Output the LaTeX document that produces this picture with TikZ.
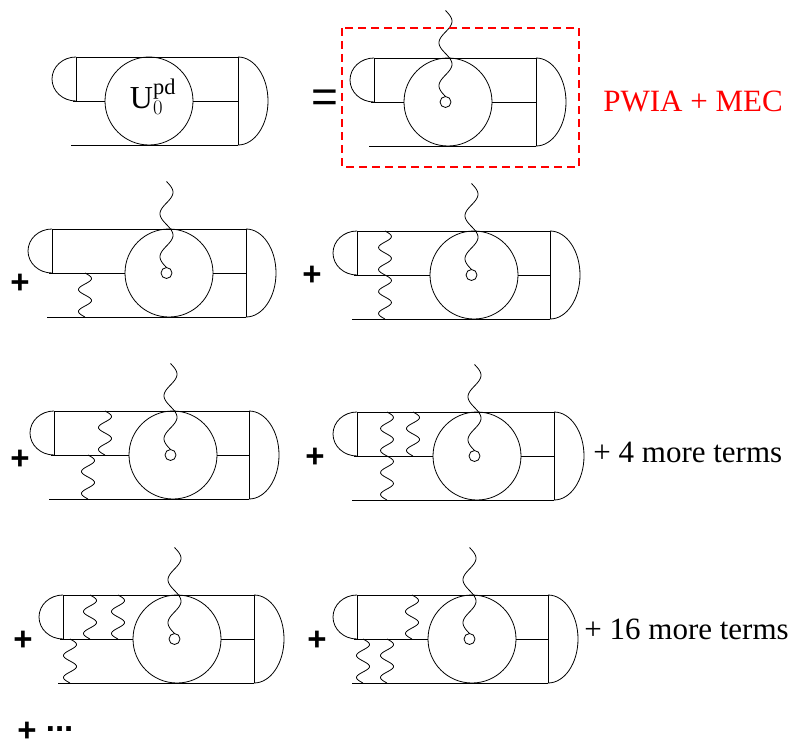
\documentclass[tikz,border=0pt]{standalone}
\usepackage{fontspec}
\setmainfont{Liberation Serif}
\setsansfont{Liberation Sans}
\tikzset{
  pl/.style={font=\sffamily\bfseries\fontsize{33}{38}\selectfont,inner sep=0pt},
  txt/.style={font=\fontsize{31}{36}\selectfont,inner sep=0pt,anchor=base west},
  pics/tube/.style 2 args={code={
    \draw (0,0) -- (#1,0) -- (#1,88);
    \draw (0,0) -- (0,44);
    \draw (0,0) arc[start angle=270,end angle=90,x radius=24,y radius=22];
    \draw (#1,0) arc[start angle=270,end angle=450,x radius=30,y radius=44];
    \draw (-3,44) -- ({#2-44},44);
    \draw ({#2+44},44) -- (#1,44);
    \draw (-5,88) -- (#1,88);
    \draw (#2,44) circle (44);
  }},
  pics/hit/.style={code={
    \draw (0,0) circle (5.5);
    \draw[variable=\t,domain=0:86,samples=90,smooth] plot ({-6.5*sin((\t/43)*360)},{-5.5-\t});
  }},
  pics/gl/.style={code={
    \draw[variable=\t,domain=0:#1,samples=60,smooth] plot ({6.5*sin((\t/22)*360)},\t);
  }}
}
\begin{document}
\begin{tikzpicture}[x=1pt,y=-1pt,line width=0.8pt]
 \useasboundingbox (0,0) rectangle (789,749);
 % first row
 \pic at (76,57) {tube={162}{73}};
 \node[font=\fontsize{32}{36}\selectfont] (u) at (153,97) {$\mathrm{U}_0^{\mathrm{pd}}$};
 \node[font=\sffamily\fontsize{46}{50}\selectfont,inner sep=0pt] (eq) at (325,101) {=};
 \begin{scope}[shift={(374,58)}]
  \pic {tube={162}{74}};
  \pic at (71.5,44) {hit};
 \end{scope}
 \draw[red,dash pattern=on 8pt off 5pt,line width=1.4pt] (342,28) rectangle (579,167);
 \node[txt,red] (pwia) at (603,112) {PWIA + MEC};
 % second row
 \node[pl] (p1) at (20,284) {+};
 \begin{scope}[shift={(52,229)}]
  \pic {tube={194}{117}};
  \pic at (114.5,44) {hit};
  \pic at (33,44) {gl=44};
 \end{scope}
 \node[pl] (p2) at (312,276) {+};
 \begin{scope}[shift={(357,231)}]
  \pic {tube={193}{117}};
  \pic at (114.5,44) {hit};
  \pic at (28,0) {gl=88};
 \end{scope}
 % third row
 \node[pl] (p3) at (20,460) {+};
 \begin{scope}[shift={(54,411)}]
  \pic {tube={195}{119}};
  \pic at (116.5,44) {hit};
  \pic at (51,0) {gl=44};
  \pic at (34,44) {gl=44};
 \end{scope}
 \node[pl] (p4) at (315,458) {+};
 \begin{scope}[shift={(357,412)}]
  \pic {tube={197}{120}};
  \pic at (117.5,44) {hit};
  \pic at (30,0) {gl=88};
  \pic at (56,0) {gl=44};
 \end{scope}
 \node[txt] (four) at (593,462) {+ 4 more terms};
 % fourth row
 \node[pl] (p5) at (23,641) {+};
 \begin{scope}[shift={(63,595)}]
  \pic {tube={191}{114}};
  \pic at (111.5,44) {hit};
  \pic at (27,0) {gl=44};
  \pic at (55,0) {gl=44};
  \pic at (7,44) {gl=44};
 \end{scope}
 \node[pl] (p6) at (317,641) {+};
 \begin{scope}[shift={(357,595)}]
  \pic {tube={191}{115}};
  \pic at (112.5,44) {hit};
  \pic at (55,0) {gl=44};
  \pic at (6,44) {gl=44};
  \pic at (30,44) {gl=44};
 \end{scope}
 \node[txt] (sixteen) at (584,639) {+ 16 more terms};
 \node[pl,anchor=base west] (rest) at (17,741) {+ \raisebox{0.28em}{...}};
\end{tikzpicture}
\end{document}
